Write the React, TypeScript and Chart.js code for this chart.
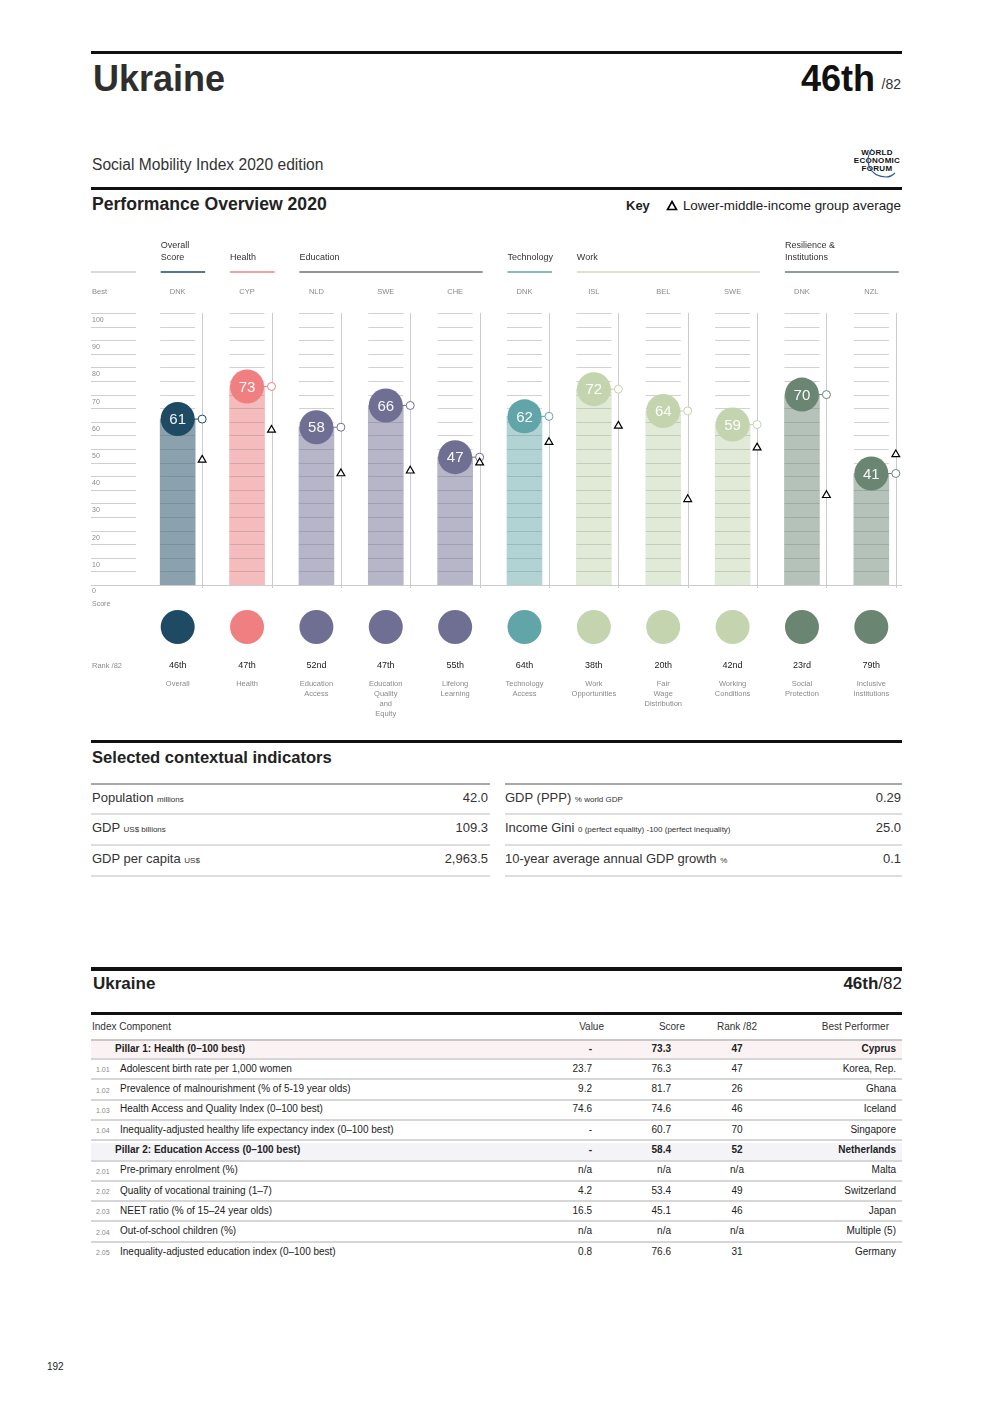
import React, { useEffect, useRef } from "react";
import { Chart, registerables } from "chart.js";
Chart.register(...registerables);

const FONT = '"Liberation Sans", Arial, Helvetica, sans-serif';

// ---------- chart data ----------
const categoryLabelLines = [
  ["Overall"],
  ["Health"],
  ["Education", "Access"],
  ["Education", "Quality", "and", "Equity"],
  ["Lifelong", "Learning"],
  ["Technology", "Access"],
  ["Work", "Opportunities"],
  ["Fair", "Wage", "Distribution"],
  ["Working", "Conditions"],
  ["Social", "Protection"],
  ["Inclusive", "Institutions"],
];
const scores = [61, 73, 58, 66, 47, 62, 72, 64, 59, 70, 41];
const groupAverages = [46, 57, 41, 42, 45, 52.5, 58.5, 31.5, 50.5, 33, 48];
const ranks = ["46th", "47th", "52nd", "47th", "55th", "64th", "38th", "20th", "42nd", "23rd", "79th"];
const bestPerformers = ["DNK", "CYP", "NLD", "SWE", "CHE", "DNK", "ISL", "BEL", "SWE", "DNK", "NZL"];
const pillarOfColumn = [0, 1, 2, 2, 2, 3, 4, 4, 4, 5, 5];
const pillarTitles = [["Overall", "Score"], ["Health"], ["Education"], ["Technology"], ["Work"], ["Resilience &", "Institutions"]];
const pillarColors = ["#1f4a63", "#f07f82", "#6f6f93", "#62a5a8", "#c4d4ae", "#6a8572"];
const pillarFaded = ["#8ba2ae", "#f5bcbd", "#b6b6c8", "#b2d3d4", "#e1e9d7", "#b4c2b9"];
const pillarRuleColors = ["#1f4a63", "#f07f82", "#6f6f80", "#62a5a8", "#d3d7c3", "#6c7b72"];
const yTickLabels = [100, 90, 80, 70, 60, 50, 40, 30, 20, 10];

// ---------- contextual indicators ----------
const ctxLabelsLeft = ["Population", "GDP", "GDP per capita"];
const ctxUnitsLeft = ["millions", "US$ billions", "US$"];
const ctxValuesLeft = ["42.0", "109.3", "2,963.5"];
const ctxLabelsRight = ["GDP (PPP)", "Income Gini", "10-year average annual GDP growth"];
const ctxUnitsRight = ["% world GDP", "0 (perfect equality) -100 (perfect inequality)", "%"];
const ctxValuesRight = ["0.29", "25.0", "0.1"];

// ---------- detail table ----------
const rowCodes = ["", "1.01", "1.02", "1.03", "1.04", "", "2.01", "2.02", "2.03", "2.04", "2.05"];
const rowLabels = [
  "Pillar 1: Health (0–100 best)",
  "Adolescent birth rate per 1,000 women",
  "Prevalence of malnourishment (% of 5-19 year olds)",
  "Health Access and Quality Index (0–100 best)",
  "Inequality-adjusted healthy life expectancy index (0–100 best)",
  "Pillar 2: Education Access (0–100 best)",
  "Pre-primary enrolment (%)",
  "Quality of vocational training (1–7)",
  "NEET ratio (% of 15–24 year olds)",
  "Out-of-school children (%)",
  "Inequality-adjusted education index (0–100 best)",
];
const rowValues = ["-", "23.7", "9.2", "74.6", "-", "-", "n/a", "4.2", "16.5", "n/a", "0.8"];
const rowScores = ["73.3", "76.3", "81.7", "74.6", "60.7", "58.4", "n/a", "53.4", "45.1", "n/a", "76.6"];
const rowRanks = ["47", "47", "26", "46", "70", "52", "n/a", "49", "46", "n/a", "31"];
const rowBest = ["Cyprus", "Korea, Rep.", "Ghana", "Iceland", "Singapore", "Netherlands", "Malta", "Switzerland", "Japan", "Multiple (5)", "Germany"];
const rowIsPillar = [true, false, false, false, false, true, false, false, false, false, false];
const pillarRowBg = ["#fbf3f3", "#f4f4f8"];

const MARK_OFFSET = 0.353;
const CANVAS_W = 815;
const CANVAS_H = 490;

const colColor = (i: number) => pillarColors[pillarOfColumn[i]];
const colFaded = (i: number) => pillarFaded[pillarOfColumn[i]];

const overlayPlugin = {
  id: "smiOverlay",
  beforeDatasetsDraw(chart: any) {
    const { ctx, scales } = chart;
    const x = scales.x;
    const y = scales.y;
    ctx.save();
    ctx.lineWidth = 1;
    // left axis lines
    ctx.strokeStyle = "#cfcfcf";
    for (let v = 5; v <= 100; v += 5) {
      const py = Math.round(y.getPixelForValue(v)) + 0.5;
      ctx.beginPath();
      ctx.moveTo(0, py);
      ctx.lineTo(45, py);
      ctx.stroke();
    }
    ctx.fillStyle = "#8a8a8a";
    ctx.font = `7px ${FONT}`;
    ctx.textAlign = "left";
    ctx.textBaseline = "alphabetic";
    yTickLabels.forEach((v) => {
      ctx.fillText(String(v), 1, y.getPixelForValue(v) + 9);
    });
    ctx.fillText("0", 1, y.getPixelForValue(0) + 8);
    ctx.fillText("Score", 1, y.getPixelForValue(0) + 21);
    ctx.font = `7.5px ${FONT}`;
    ctx.fillText("Best", 1, 62);
    ctx.fillText("Rank /82", 1, 436);

    // vertical marker lines
    ctx.strokeStyle = "#cccccc";
    scores.forEach((_, i) => {
      const mx = Math.round(x.getPixelForValue(i + MARK_OFFSET)) + 0.5;
      ctx.beginPath();
      ctx.moveTo(mx, y.getPixelForValue(100));
      ctx.lineTo(mx, y.getPixelForValue(0) + 3);
      ctx.stroke();
    });
    // baseline
    const by = Math.round(y.getPixelForValue(0)) + 0.5;
    ctx.beginPath();
    ctx.moveTo(0, by);
    ctx.lineTo(811, by);
    ctx.stroke();

    // header rules and titles
    ctx.lineWidth = 1.5;
    ctx.strokeStyle = "#cccccc";
    ctx.beginPath();
    ctx.moveTo(0, 40);
    ctx.lineTo(45, 40);
    ctx.stroke();
    pillarTitles.forEach((lines, p) => {
      const cols = pillarOfColumn.map((q, i) => (q === p ? i : -1)).filter((i) => i >= 0);
      const i0 = cols[0];
      const i1 = cols[cols.length - 1];
      const xs = x.getPixelForValue(i0) - 17;
      const xe = x.getPixelForValue(i1 + MARK_OFFSET) + 3;
      ctx.strokeStyle = pillarRuleColors[p];
      ctx.beginPath();
      ctx.moveTo(xs, 40);
      ctx.lineTo(xe, 40);
      ctx.stroke();
      ctx.fillStyle = "#333333";
      ctx.font = `9px ${FONT}`;
      ctx.textAlign = "left";
      const start = 28 - (lines.length - 1) * 12;
      lines.forEach((t, k) => ctx.fillText(t, xs, start + k * 12));
    });
    ctx.fillStyle = "#8a8a8a";
    ctx.font = `7.5px ${FONT}`;
    ctx.textAlign = "center";
    bestPerformers.forEach((c, i) => ctx.fillText(c, x.getPixelForValue(i), 62));
    ctx.restore();
  },
  afterDatasetDraw(chart: any, args: any) {
    if (args.index !== 0) return;
    const { ctx, scales } = chart;
    const x = scales.x;
    const y = scales.y;
    ctx.save();
    ctx.lineWidth = 1;
    scores.forEach((s, i) => {
      const cx = x.getPixelForValue(i);
      for (let v = 5; v <= 100; v += 5) {
        const py = Math.round(y.getPixelForValue(v)) + 0.5;
        ctx.strokeStyle = v < s ? "rgba(40,50,60,0.16)" : "#d2d2d2";
        ctx.beginPath();
        ctx.moveTo(cx - 17.5, py);
        ctx.lineTo(cx + 17.5, py);
        ctx.stroke();
      }
      // connector from score circle to marker circle
      const py = y.getPixelForValue(s);
      ctx.strokeStyle = colColor(i);
      ctx.beginPath();
      ctx.moveTo(cx + 16, py);
      ctx.lineTo(x.getPixelForValue(i + MARK_OFFSET) - 4, py);
      ctx.stroke();
    });
    ctx.restore();
  },
  afterDatasetsDraw(chart: any) {
    const { ctx, scales } = chart;
    const x = scales.x;
    const y = scales.y;
    ctx.save();
    ctx.textAlign = "center";
    ctx.textBaseline = "middle";
    ctx.font = `15px ${FONT}`;
    ctx.fillStyle = "rgba(255,255,255,0.95)";
    scores.forEach((s, i) => {
      ctx.fillText(String(s), x.getPixelForValue(i), y.getPixelForValue(s) + 1);
    });
    // bottom legend circles, ranks, names
    ctx.textBaseline = "alphabetic";
    scores.forEach((_, i) => {
      const cx = x.getPixelForValue(i);
      ctx.fillStyle = colColor(i);
      ctx.beginPath();
      ctx.arc(cx, 395, 17, 0, Math.PI * 2);
      ctx.fill();
      ctx.fillStyle = "#222222";
      ctx.font = `9px ${FONT}`;
      ctx.fillText(ranks[i], cx, 436);
      ctx.fillStyle = "#8a8a8a";
      ctx.font = `7.5px ${FONT}`;
      categoryLabelLines[i].forEach((t, k) => ctx.fillText(t, cx, 454 + k * 10));
    });
    ctx.restore();
  },
};

function ChartBlock() {
  const ref = useRef<HTMLCanvasElement | null>(null);
  useEffect(() => {
    if (!ref.current) return;
    const chart = new Chart(ref.current, {
      type: "bar",
      data: {
        datasets: [
          {
            type: "bar",
            data: scores.map((v, i) => ({ x: i, y: v })),
            backgroundColor: scores.map((_, i) => colFaded(i)),
            barThickness: 35,
            borderWidth: 0,
            order: 4,
          } as any,
          {
            type: "line",
            data: scores.map((v, i) => ({ x: i, y: v })),
            showLine: false,
            pointRadius: 17,
            pointHoverRadius: 17,
            pointBorderWidth: 0,
            pointBackgroundColor: scores.map((_, i) => colColor(i)),
            pointBorderColor: scores.map((_, i) => colColor(i)),
            order: 3,
          },
          {
            type: "line",
            data: scores.map((v, i) => ({ x: i + MARK_OFFSET, y: v })),
            showLine: false,
            pointRadius: 4,
            pointHoverRadius: 4,
            pointBorderWidth: 1,
            pointBackgroundColor: "#ffffff",
            pointBorderColor: scores.map((_, i) => colColor(i)),
            order: 2,
          },
          {
            type: "line",
            data: groupAverages.map((v, i) => ({ x: i + MARK_OFFSET, y: v })),
            showLine: false,
            pointStyle: "triangle",
            pointRadius: 4.5,
            pointHoverRadius: 4.5,
            pointBorderWidth: 1.2,
            pointBackgroundColor: "#ffffff",
            pointBorderColor: "#000000",
            order: 1,
          },
        ],
      },
      options: {
        animation: false,
        responsive: false,
        events: [],
        layout: { autoPadding: false, padding: { left: 52, right: 0, top: 81, bottom: 137 } },
        plugins: { legend: { display: false }, tooltip: { enabled: false } },
        scales: {
          x: { type: "linear", min: -0.5, max: 10.5, offset: false, display: false },
          y: { type: "linear", min: 0, max: 100, display: false },
        },
      },
      plugins: [overlayPlugin],
    } as any);
    return () => chart.destroy();
  }, []);
  return (
    <div style={{ position: "absolute", left: 91, top: 232, width: CANVAS_W, height: CANVAS_H }}>
      <canvas ref={ref} width={CANVAS_W} height={CANVAS_H} style={{ width: CANVAS_W, height: CANVAS_H, display: "block" }} />
    </div>
  );
}

function T(props: any) {
  const { x, y, size, weight = 400, color = "#333", align = "left", children, style } = props;
  const s: any = {
    position: "absolute",
    top: y - 0.8465 * size,
    fontSize: size,
    lineHeight: `${size}px`,
    fontWeight: weight,
    color,
    whiteSpace: "nowrap",
    fontFamily: FONT,
    ...style,
  };
  if (align === "left") s.left = x;
  else if (align === "right") s.right = 992 - x;
  else {
    s.left = x;
    s.transform = "translateX(-50%)";
  }
  return <div style={s}>{children}</div>;
}

function Rule(props: any) {
  const { y, h, x1 = 91, x2 = 902, color = "#111" } = props;
  return <div style={{ position: "absolute", left: x1, top: y, width: x2 - x1, height: h, background: color }} />;
}

export default function App() {
  const ctxRowsY = [802, 832, 863];
  const ctxLinesY = [813, 844, 875];
  const rowY0 = 1052;
  const rowStep = 20.3;
  return (
    <div style={{ position: "absolute", left: 0, top: 0, width: 992, height: 1403, background: "#fff", fontFamily: FONT, overflow: "hidden" }}>
      <Rule y={51} h={3} />
      <T x={93} y={91} size={36} weight={700} color="#2e2e2e">Ukraine</T>
      <T x={875} y={91} size={36} weight={700} color="#111" align="right">46th</T>
      <T x={901} y={89} size={14} color="#333" align="right">/82</T>
      <T x={92} y={170} size={15.6} color="#333">Social Mobility Index 2020 edition</T>

      {/* WEF logo */}
      <T x={877} y={156} size={8} weight={700} color="#111" align="center" style={{ letterSpacing: 0.3 }}>WORLD</T>
      <T x={877} y={164} size={8} weight={700} color="#111" align="center" style={{ letterSpacing: 0.3 }}>ECONOMIC</T>
      <T x={877} y={172} size={8} weight={700} color="#111" align="center" style={{ letterSpacing: 0.3 }}>FORUM</T>
      <svg style={{ position: "absolute", left: 850, top: 146 }} width={55} height={36}>
        <path d="M 22 3 C 14 14, 18 30, 36 31 C 40 31, 43 29, 45 27" fill="none" stroke="#2c5aa0" strokeWidth={1.2} />
      </svg>

      <Rule y={187} h={3} />
      <T x={92} y={211} size={17.6} weight={700} color="#222">Performance Overview 2020</T>
      <T x={626} y={210} size={13} weight={700} color="#222">Key</T>
      <svg style={{ position: "absolute", left: 666, top: 200 }} width={12} height={11}>
        <path d="M 6 1.5 L 10.5 9.5 L 1.5 9.5 Z" fill="#fff" stroke="#000" strokeWidth={1.6} strokeLinejoin="miter" />
      </svg>
      <T x={901} y={210} size={13.4} color="#222" align="right">Lower-middle-income group average</T>

      <ChartBlock />

      <Rule y={740} h={3} />
      <T x={92} y={764} size={16.6} weight={700} color="#222">Selected contextual indicators</T>
      <Rule y={783} h={2} x1={91} x2={490} color="#a8a8a8" />
      <Rule y={783} h={2} x1={505} x2={902} color="#a8a8a8" />
      {ctxRowsY.map((ry, k) => (
        <React.Fragment key={k}>
          <T x={92} y={ry} size={13} color="#333">
            {ctxLabelsLeft[k]} <span style={{ fontSize: 8 }}>{ctxUnitsLeft[k]}</span>
          </T>
          <T x={488} y={ry} size={13} color="#333" align="right">{ctxValuesLeft[k]}</T>
          <T x={505} y={ry} size={13} color="#333">
            {ctxLabelsRight[k]} <span style={{ fontSize: 8 }}>{ctxUnitsRight[k]}</span>
          </T>
          <T x={901} y={ry} size={13} color="#333" align="right">{ctxValuesRight[k]}</T>
          <Rule y={ctxLinesY[k]} h={2} x1={91} x2={490} color="#dddddd" />
          <Rule y={ctxLinesY[k]} h={2} x1={505} x2={902} color="#dddddd" />
        </React.Fragment>
      ))}

      <Rule y={967} h={4} />
      <T x={93} y={989} size={17} weight={700} color="#222">Ukraine</T>
      <T x={902} y={989} size={17} color="#222" align="right">
        <b>46th</b>/82
      </T>
      <Rule y={1012} h={3} />
      <T x={92} y={1030} size={10} color="#333">Index Component</T>
      <T x={604} y={1030} size={10} color="#333" align="right">Value</T>
      <T x={685} y={1030} size={10} color="#333" align="right">Score</T>
      <T x={737} y={1030} size={10} color="#333" align="center">Rank /82</T>
      <T x={889} y={1030} size={10} color="#333" align="right">Best Performer</T>
      <Rule y={1039} h={2} color="#c8c8c8" />
      {rowLabels.map((lab, k) => {
        const ry = rowY0 + k * rowStep;
        const bold = rowIsPillar[k];
        const w = bold ? 700 : 400;
        return (
          <React.Fragment key={k}>
            {bold && (
              <div style={{ position: "absolute", left: 91, top: ry - 11, width: 811, height: 17, background: pillarRowBg[k === 0 ? 0 : 1] }} />
            )}
            {rowCodes[k] && <T x={96} y={ry} size={7} color="#888">{rowCodes[k]}</T>}
            <T x={bold ? 115 : 120} y={ry} size={10} weight={w} color="#222">{lab}</T>
            <T x={592} y={ry} size={10} weight={w} color="#222" align="right">{rowValues[k]}</T>
            <T x={671} y={ry} size={10} weight={w} color="#222" align="right">{rowScores[k]}</T>
            <T x={737} y={ry} size={10} weight={w} color="#222" align="center">{rowRanks[k]}</T>
            <T x={896} y={ry} size={10} weight={w} color="#222" align="right">{rowBest[k]}</T>
            {k < rowLabels.length - 1 && <Rule y={ry + 6} h={2} color="#d6d6d6" />}
          </React.Fragment>
        );
      })}
      <T x={47} y={1370} size={10} color="#222">192</T>
    </div>
  );
}
